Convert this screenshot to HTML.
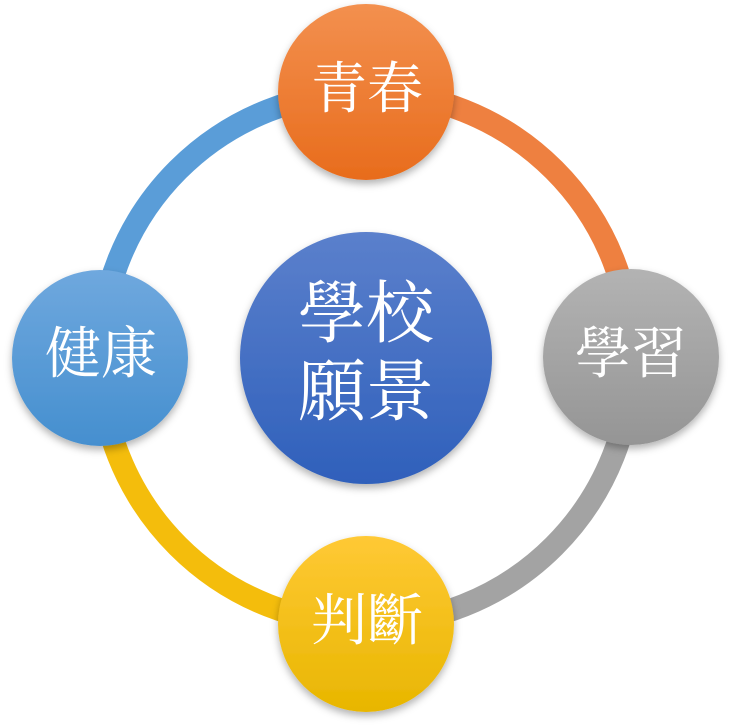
<!DOCTYPE html>
<html><head><meta charset="utf-8"><style>
html,body{margin:0;padding:0;background:#fff;width:751px;height:725px;overflow:hidden}
</style></head><body>
<svg width="751" height="725" viewBox="0 0 751 725" xmlns="http://www.w3.org/2000/svg">
<defs>
<linearGradient id="go" x1="0" y1="0" x2="0" y2="1"><stop offset="0" stop-color="#f3904f"/><stop offset="1" stop-color="#e86c1c"/></linearGradient>
<linearGradient id="gg" x1="0" y1="0" x2="0" y2="1"><stop offset="0" stop-color="#b3b3b3"/><stop offset="1" stop-color="#959595"/></linearGradient>
<linearGradient id="gy" x1="0" y1="0" x2="0" y2="1"><stop offset="0" stop-color="#ffc935"/><stop offset="1" stop-color="#e8b600"/></linearGradient>
<linearGradient id="gb" x1="0" y1="0" x2="0" y2="1"><stop offset="0" stop-color="#6fa8de"/><stop offset="1" stop-color="#458fcf"/></linearGradient>
<linearGradient id="gc" x1="0" y1="0" x2="0" y2="1"><stop offset="0" stop-color="#5b80cc"/><stop offset="1" stop-color="#2f60bb"/></linearGradient>
<filter id="sh" x="-20%" y="-20%" width="140%" height="150%"><feDropShadow dx="0" dy="4" stdDeviation="4" flood-color="#000" flood-opacity="0.3"/></filter>
</defs>
<g fill="none" stroke-width="23">
<path d="M366 92 A266 266 0 0 1 632 358" stroke="#ee8040"/>
<path d="M632 358 A266 266 0 0 1 366 624" stroke="#a3a3a3"/>
<path d="M366 624 A266 266 0 0 1 100 358" stroke="#f4bd0c"/>
<path d="M100 358 A266 266 0 0 1 366 92" stroke="#5a9dd8"/>
</g>
<g filter="url(#sh)">
<circle cx="366" cy="92" r="88" fill="url(#go)"/>
<circle cx="631" cy="357" r="88" fill="url(#gg)"/>
<circle cx="366" cy="624" r="88" fill="url(#gy)"/>
<circle cx="100" cy="358" r="88" fill="url(#gb)"/>
<circle cx="366" cy="358" r="126" fill="url(#gc)"/>
</g>
<g fill="#fff" font-family="'Liberation Serif','Noto Serif CJK SC',serif" text-anchor="middle">
<text x="367" y="108" font-size="56">青春</text>
<text x="631" y="373" font-size="56">學習</text>
<text x="367" y="640" font-size="56">判斷</text>
<text x="101" y="373" font-size="56">健康</text>
<text x="366" y="337" font-size="68">學校</text>
<text x="366" y="415" font-size="68">願景</text>
</g>
</svg>
</body></html>
